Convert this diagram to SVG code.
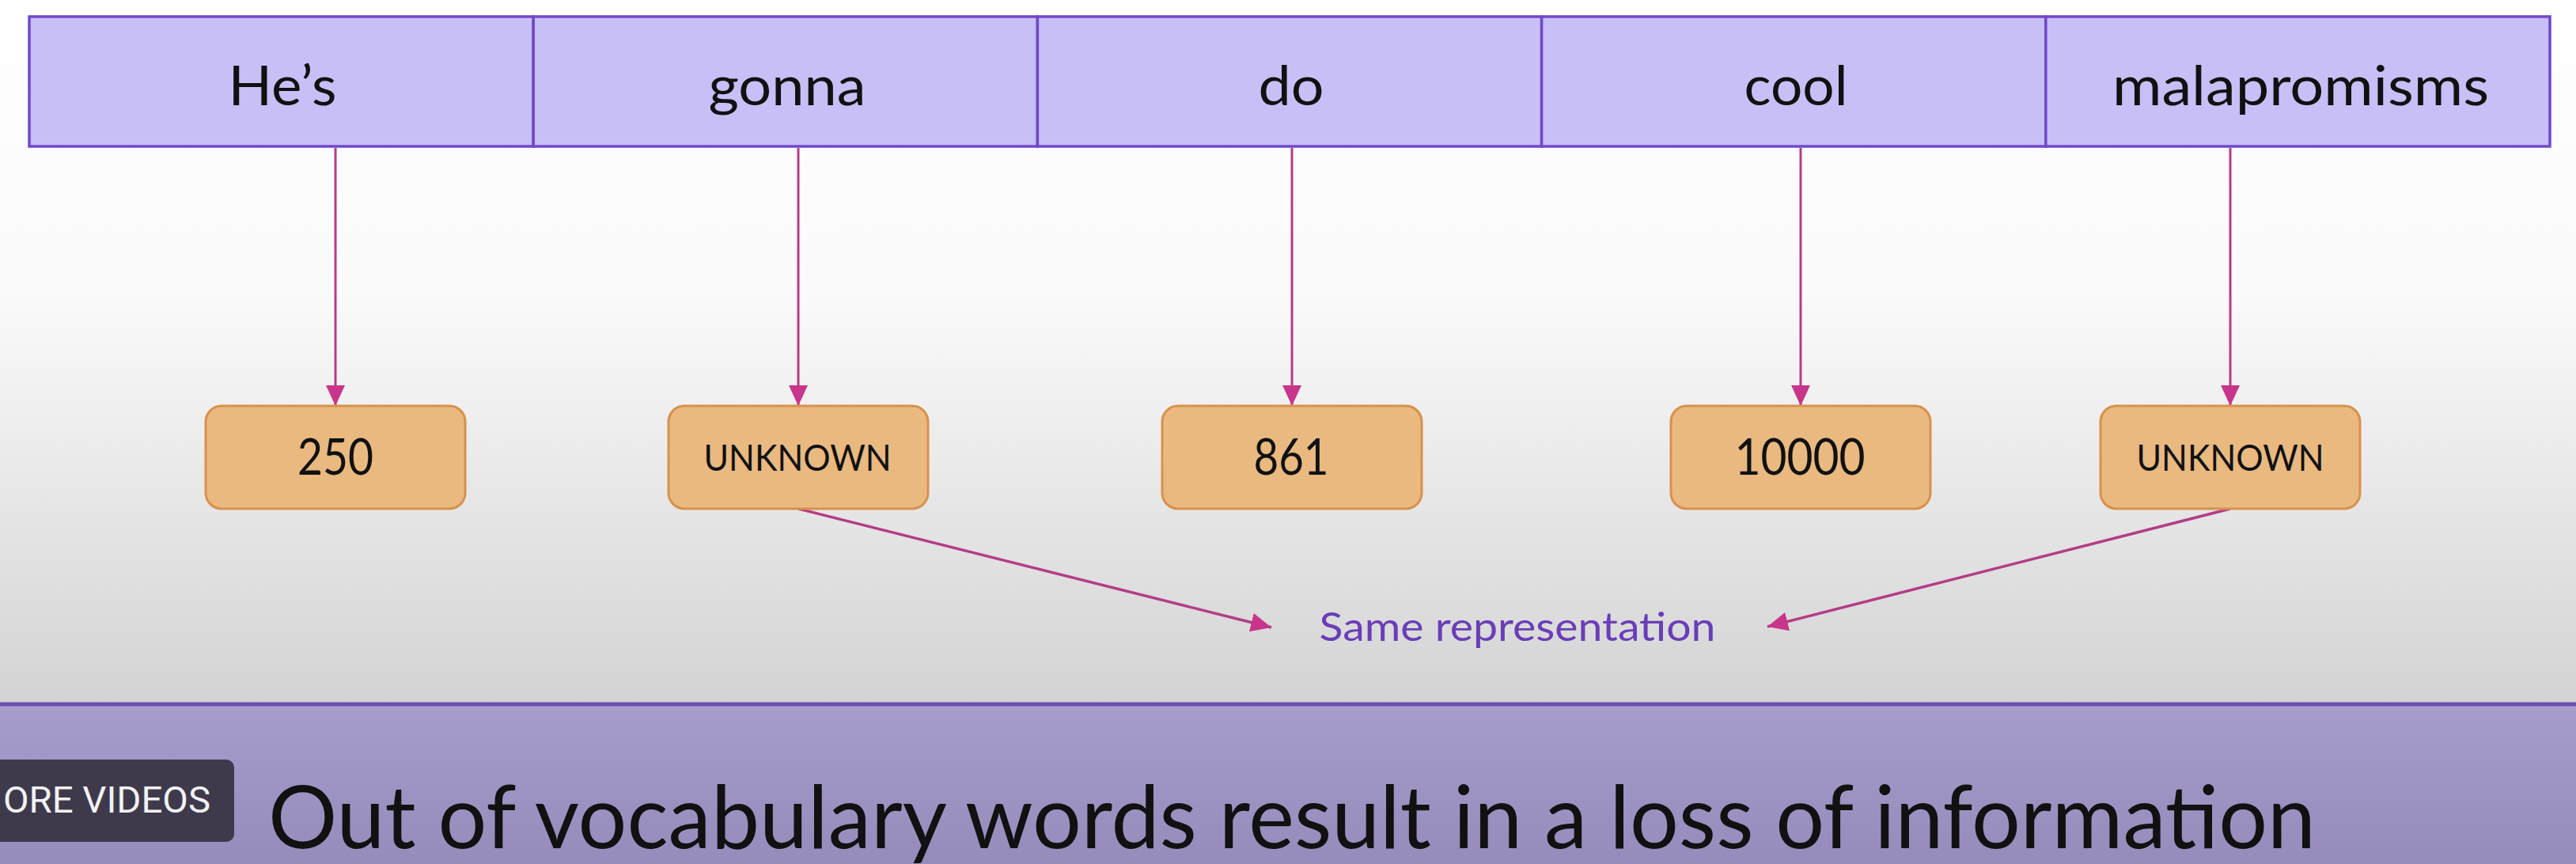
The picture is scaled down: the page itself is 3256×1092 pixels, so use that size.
<svg xmlns="http://www.w3.org/2000/svg" width="3256" height="1092" viewBox="0 0 3256 1092">
  <defs>
    <linearGradient id="bg" x1="0" y1="0" x2="0" y2="1">
      <stop offset="0" stop-color="#ffffff"/>
      <stop offset="0.42" stop-color="#fafafa"/>
      <stop offset="1" stop-color="#d3d3d3"/>
    </linearGradient>
    <linearGradient id="banner" x1="0" y1="0" x2="0" y2="1">
      <stop offset="0" stop-color="#a69dcd"/>
      <stop offset="1" stop-color="#968bbb"/>
    </linearGradient>
    <marker id="arrow" markerUnits="userSpaceOnUse" markerWidth="26" markerHeight="24" refX="26" refY="12" orient="auto">
      <path d="M0,0 L26,12 L0,24 z" fill="#c8358a"/>
    </marker>
    <style>
      .cell { fill: #c9bff7; stroke: #7049c9; stroke-width: 3.5; }
      .word { font-family: Lato, "Open Sans", sans-serif; font-size: 70px; fill: #111111; text-anchor: middle; }
      .box { fill: #e9b980; stroke: #d8914c; stroke-width: 3; }
      .num { font-family: Lato, "Open Sans", sans-serif; font-size: 63px; fill: #111111; text-anchor: middle; }
      .unk { font-family: Lato, "Open Sans", sans-serif; font-size: 46px; fill: #111111; text-anchor: middle; }
      .conn { stroke: #b43d85; stroke-width: 3; fill: none; marker-end: url(#arrow); }
      .diag { stroke: #b43d85; stroke-width: 3.5; fill: none; marker-end: url(#arrow); }
    </style>
  </defs>

  <rect x="0" y="0" width="3256" height="892" fill="url(#bg)"/>
  <rect x="0" y="892" width="3256" height="200" fill="url(#banner)"/>
  <line x1="0" y1="890" x2="3256" y2="890" stroke="#6b4fae" stroke-width="5"/>

  <g id="cell-hes">
    <rect class="cell" x="37" y="21" width="637.2" height="164"/>
    <text class="word" x="357" y="133" textLength="137" lengthAdjust="spacingAndGlyphs">He’s</text>
  </g>
  <g id="cell-gonna">
    <rect class="cell" x="674.2" y="21" width="637.2" height="164"/>
    <text class="word" x="995" y="133" textLength="199" lengthAdjust="spacingAndGlyphs">gonna</text>
  </g>
  <g id="cell-do">
    <rect class="cell" x="1311.4" y="21" width="637.2" height="164"/>
    <text class="word" x="1632" y="133" textLength="83" lengthAdjust="spacingAndGlyphs">do</text>
  </g>
  <g id="cell-cool">
    <rect class="cell" x="1948.6" y="21" width="637.2" height="164"/>
    <text class="word" x="2270" y="133" textLength="131" lengthAdjust="spacingAndGlyphs">cool</text>
  </g>
  <g id="cell-malapromisms">
    <rect class="cell" x="2585.8" y="21" width="637.2" height="164"/>
    <text class="word" x="2908" y="133" textLength="476" lengthAdjust="spacingAndGlyphs">malapromisms</text>
  </g>

  <g id="connectors">
    <line class="conn" x1="424" y1="187" x2="424" y2="513"/>
    <line class="conn" x1="1009" y1="187" x2="1009" y2="513"/>
    <line class="conn" x1="1633" y1="187" x2="1633" y2="513"/>
    <line class="conn" x1="2276" y1="187" x2="2276" y2="513"/>
    <line class="conn" x1="2819" y1="187" x2="2819" y2="513"/>
    <line class="diag" x1="1009" y1="643" x2="1607" y2="793"/>
    <line class="diag" x1="2819" y1="643" x2="2234" y2="792"/>
  </g>

  <g id="box-250">
    <rect class="box" x="260" y="513" width="328" height="130" rx="20"/>
    <text class="num" x="424" y="600" textLength="96" lengthAdjust="spacingAndGlyphs">250</text>
  </g>
  <g id="box-unknown-1">
    <rect class="box" x="845" y="513" width="328" height="130" rx="20"/>
    <text class="unk" x="1008" y="595" textLength="237" lengthAdjust="spacingAndGlyphs">UNKNOWN</text>
  </g>
  <g id="box-861">
    <rect class="box" x="1469" y="513" width="328" height="130" rx="20"/>
    <text class="num" x="1632" y="600" textLength="95" lengthAdjust="spacingAndGlyphs">861</text>
  </g>
  <g id="box-10000">
    <rect class="box" x="2112" y="513" width="328" height="130" rx="20"/>
    <text class="num" x="2275" y="600" textLength="165" lengthAdjust="spacingAndGlyphs">10000</text>
  </g>
  <g id="box-unknown-2">
    <rect class="box" x="2655" y="513" width="328" height="130" rx="20"/>
    <text class="unk" x="2819" y="595" textLength="237" lengthAdjust="spacingAndGlyphs">UNKNOWN</text>
  </g>

  <g id="label-same">
    <text x="1918" y="810" font-family="Lato, 'Open Sans', sans-serif" font-size="50" fill="#6a3db8" text-anchor="middle" textLength="501" lengthAdjust="spacingAndGlyphs">Same representation</text>
  </g>

  <g id="more-videos">
    <rect x="-12" y="960" width="308" height="104" rx="10" fill="#3e3a4c"/>
    <text x="4" y="1027" font-family="Roboto, 'Liberation Sans', sans-serif" font-size="46" fill="#f2f2f2" textLength="262" lengthAdjust="spacingAndGlyphs">ORE VIDEOS</text>
  </g>

  <g id="title">
    <text x="339" y="1072" font-family="Lato, 'Open Sans', sans-serif" font-size="110" fill="#111111" textLength="2588" lengthAdjust="spacingAndGlyphs">Out of vocabulary words result in a loss of information</text>
  </g>
</svg>
